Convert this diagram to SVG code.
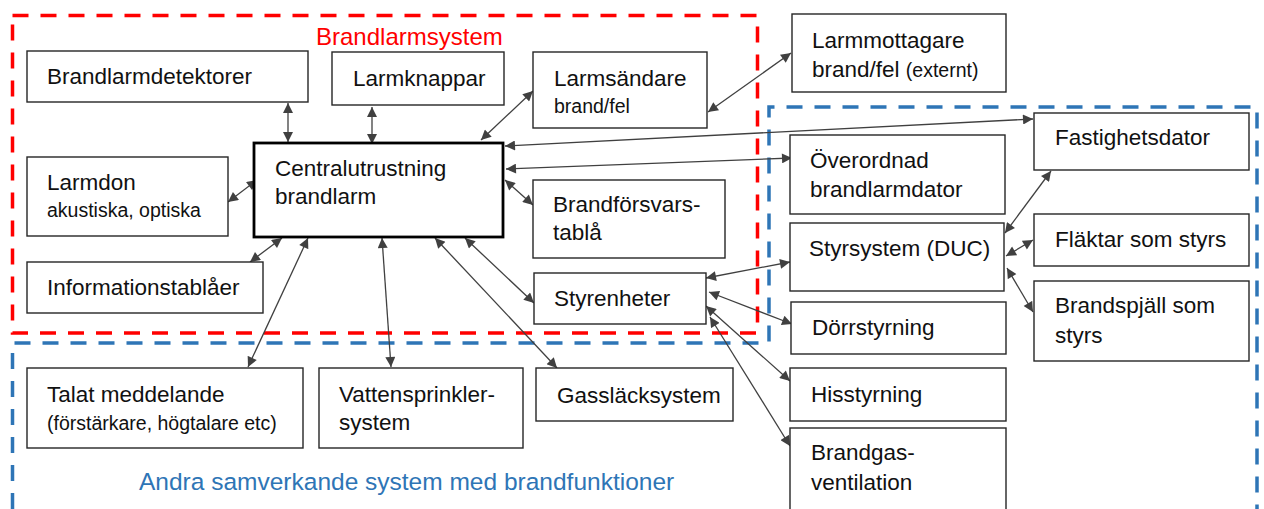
<svg xmlns="http://www.w3.org/2000/svg" width="1264" height="509" viewBox="0 0 1264 509">
<defs>
<style>
.box{fill:#fff;stroke:#262626;stroke-width:1.4}
.main{fill:#fff;stroke:#000;stroke-width:2.8}
.t{font-family:"Liberation Sans",Arial,sans-serif;font-size:22.5px;fill:#111}
.s{font-size:19.5px}
.c{fill:none;stroke:#404040;stroke-width:1.3;marker-start:url(#ah);marker-end:url(#ah)}
.lbl{font-family:"Liberation Sans",Arial,sans-serif;font-size:24px}
</style>
<marker id="ah" viewBox="0 0 10 10" refX="10" refY="5" markerUnits="userSpaceOnUse" markerWidth="11" markerHeight="10" orient="auto-start-reverse">
<path d="M0,0 L10,5 L0,10 z" fill="#404040"/>
</marker>
</defs>
<rect width="1264" height="509" fill="#fff"/>

<g id="frames">
<path d="M12.5,15.5 H757.5 V333 H12.5 Z" fill="none" stroke="#ff0000" stroke-width="3.5" stroke-dasharray="16 12"/>
<path d="M12.5,509 V343 H769 V107 H1257 V509" fill="none" stroke="#2e75b6" stroke-width="3.5" stroke-dasharray="16 12"/>
<text class="lbl" x="316" y="45" fill="#ff0000">Brandlarmsystem</text>
<text class="lbl" x="139" y="490" fill="#2e75b6" style="font-size:24.5px">Andra samverkande system med brandfunktioner</text>
</g>

<g id="connectors">
<line class="c" x1="288" y1="103" x2="288" y2="142"/>
<line class="c" x1="372" y1="107" x2="372" y2="144"/>
<line class="c" x1="481" y1="140" x2="533" y2="91"/>
<line class="c" x1="708" y1="112" x2="791" y2="53"/>
<line class="c" x1="505" y1="146" x2="1033" y2="119"/>
<line class="c" x1="506" y1="169" x2="792" y2="158"/>
<line class="c" x1="505" y1="180" x2="533" y2="205"/>
<line class="c" x1="228" y1="202" x2="257" y2="180"/>
<line class="c" x1="250" y1="262" x2="282" y2="238"/>
<line class="c" x1="248" y1="367" x2="308" y2="238"/>
<line class="c" x1="391" y1="367" x2="382" y2="238"/>
<line class="c" x1="465" y1="238" x2="534" y2="303"/>
<line class="c" x1="435" y1="238" x2="557" y2="368"/>
<line class="c" x1="706" y1="278" x2="790" y2="262"/>
<line class="c" x1="709" y1="292" x2="792" y2="324"/>
<line class="c" x1="706" y1="306" x2="790" y2="381"/>
<line class="c" x1="710" y1="317" x2="790" y2="446"/>
<line class="c" x1="1005" y1="233" x2="1051" y2="171"/>
<line class="c" x1="1006" y1="256" x2="1033" y2="240"/>
<line class="c" x1="1007" y1="268" x2="1033" y2="312"/>
</g>

<g id="brandlarmdetektorer"><rect class="box" x="27" y="51" width="281" height="51"/><text class="t" x="47" y="84">Brandlarmdetektorer</text></g>
<g id="larmknappar"><rect class="box" x="332" y="52" width="172" height="53"/><text class="t" x="353" y="86">Larmknappar</text></g>
<g id="larmsandare"><rect class="box" x="533" y="52" width="174" height="76"/><text class="t" x="554" y="86">Larmsändare</text><text class="t s" x="554" y="113">brand/fel</text></g>
<g id="larmmottagare"><rect class="box" x="792" y="14" width="214" height="78"/><text class="t" x="812" y="48">Larmmottagare</text><text class="t" x="812" y="77">brand/fel <tspan class="s">(externt)</tspan></text></g>
<g id="central"><rect class="main" x="254" y="143" width="249" height="94"/><text class="t" x="275" y="176">Centralutrustning</text><text class="t" x="275" y="204">brandlarm</text></g>
<g id="larmdon"><rect class="box" x="27" y="157" width="201" height="79"/><text class="t" x="47" y="190">Larmdon</text><text class="t s" x="47" y="217">akustiska, optiska</text></g>
<g id="brandforsvarstabla"><rect class="box" x="533" y="180" width="192" height="78"/><text class="t" x="553" y="212">Brandförsvars-</text><text class="t" x="553" y="240">tablå</text></g>
<g id="informationstablaer"><rect class="box" x="27" y="262" width="236" height="51"/><text class="t" x="47" y="295">Informationstablåer</text></g>
<g id="styrenheter"><rect class="box" x="534" y="273" width="172" height="51"/><text class="t" x="554" y="306">Styrenheter</text></g>
<g id="talat"><rect class="box" x="27" y="368" width="276" height="80"/><text class="t" x="47" y="402">Talat meddelande</text><text class="t s" x="47" y="430">(förstärkare, högtalare etc)</text></g>
<g id="vattensprinkler"><rect class="box" x="319" y="368" width="204" height="80"/><text class="t" x="339" y="402">Vattensprinkler-</text><text class="t" x="339" y="430">system</text></g>
<g id="gasslack"><rect class="box" x="536" y="368" width="197" height="53"/><text class="t" x="557" y="403">Gassläcksystem</text></g>
<g id="overordnad"><rect class="box" x="790" y="135" width="215" height="79"/><text class="t" x="810" y="168">Överordnad</text><text class="t" x="810" y="197">brandlarmdator</text></g>
<g id="styrsystem"><rect class="box" x="790" y="223" width="214" height="68"/><text class="t" x="809" y="256">Styrsystem (DUC)</text></g>
<g id="dorrstyrning"><rect class="box" x="791" y="302" width="215" height="52"/><text class="t" x="812" y="335">Dörrstyrning</text></g>
<g id="hisstyrning"><rect class="box" x="790" y="368" width="216" height="53"/><text class="t" x="811" y="402">Hisstyrning</text></g>
<g id="brandgas"><rect class="box" x="790" y="428" width="216" height="90"/><text class="t" x="811" y="460">Brandgas-</text><text class="t" x="811" y="490">ventilation</text></g>
<g id="fastighetsdator"><rect class="box" x="1034" y="113" width="215" height="57"/><text class="t" x="1055" y="145">Fastighetsdator</text></g>
<g id="flaktar"><rect class="box" x="1034" y="214" width="215" height="52"/><text class="t" x="1055" y="247">Fläktar som styrs</text></g>
<g id="brandspjall"><rect class="box" x="1034" y="281" width="215" height="80"/><text class="t" x="1055" y="313">Brandspjäll som</text><text class="t" x="1055" y="343">styrs</text></g>
</svg>
